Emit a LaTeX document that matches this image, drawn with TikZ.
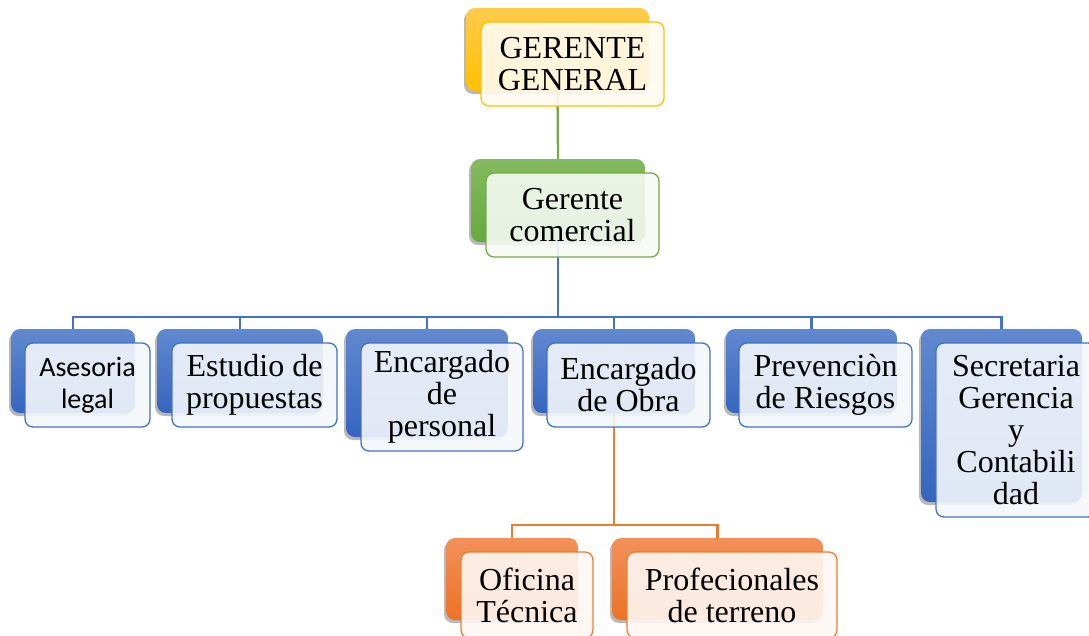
\documentclass[tikz,border=0pt]{standalone}
\usepackage{fontspec}
\setmainfont{Liberation Serif}
\newfontfamily\calibrisub{Carlito}
\usetikzlibrary{shadows,backgrounds,calc}
\definecolor{cY}{HTML}{FFC000}
\definecolor{cYt}{HTML}{FFCB4C}
\definecolor{cG}{HTML}{70AD47}
\definecolor{cGt}{HTML}{84BB60}
\definecolor{cGb}{HTML}{68A83C}
\definecolor{cB}{HTML}{4472C4}
\definecolor{cBt}{HTML}{6189D0}
\definecolor{cBb}{HTML}{3565C0}
\definecolor{cO}{HTML}{ED7D31}
\definecolor{cOt}{HTML}{F2915A}
\definecolor{cOb}{HTML}{EB7325}
\tikzset{
  backbox/.style={rounded corners=9pt, draw=none,
    drop shadow={shadow xshift=-2pt, shadow yshift=-3pt, opacity=0.28, fill=black}},
  yback/.style={backbox, top color=cYt, bottom color=cY},
  gback/.style={backbox, top color=cGt, bottom color=cGb},
  bback/.style={backbox, top color=cBt, bottom color=cBb},
  oback/.style={backbox, top color=cOt, bottom color=cOb},
  frontbox/.style={rounded corners=8pt, line width=1.3pt, fill opacity=0.9, text opacity=1,
    align=center, inner sep=0pt, font=\fontsize{32}{32}\selectfont},
  yfront/.style={frontbox, draw=cY, fill=cY!6!white},
  gfront/.style={frontbox, draw=cG, fill=cG!6!white},
  bfront/.style={frontbox, draw=cB, fill=cB!6!white},
  ofront/.style={frontbox, draw=cO, fill=cO!6!white},
  conn/.style={line width=2.3pt},
}
\begin{document}
\begin{tikzpicture}[x=1pt,y=-1pt]
\useasboundingbox (0,0) rectangle (1089,635);
\clip (0,0) rectangle (1089,635);
% level 0
\node[yback, minimum width=183pt, minimum height=83pt] (gg-b) at (557.5,49.5) {};
\node[yfront, minimum width=183pt, minimum height=84pt] (gg) at (572.5,64) {GERENTE\\GENERAL};
% level 1
\node[gback, minimum width=174pt, minimum height=83pt] (gc-b) at (558,200.5) {};
\node[gfront, minimum width=173pt, minimum height=84pt] (gc) at (572.5,215) {Gerente\\comercial};
% level 2
\node[bback, minimum width=124pt, minimum height=84pt] (al-b) at (73,371) {};
\node[bfront, minimum width=125pt, minimum height=84pt, font=\calibrisub\fontsize{28}{32}\selectfont] (al) at (87.5,385) {Asesoria\\legal};
\node[bback, minimum width=166pt, minimum height=84pt] (ep-b) at (240,371) {};
\node[bfront, minimum width=165pt, minimum height=84pt] (ep) at (254.5,385) {Estudio de\\propuestas};
\node[bback, minimum width=162pt, minimum height=108pt] (enp-b) at (427,383) {};
\node[bfront, minimum width=162pt, minimum height=108pt] (enp) at (442,397) {Encargado\\de\\personal};
\node[bback, minimum width=162pt, minimum height=84pt] (eo-b) at (614,371) {};
\node[bfront, minimum width=163pt, minimum height=84pt] (eo) at (628.5,385) {Encargado\\de Obra};
\node[bback, minimum width=171pt, minimum height=84pt] (pr-b) at (811.5,371) {};
\node[bfront, minimum width=173pt, minimum height=84pt] (pr) at (825.5,385) {Prevenciòn\\de Riesgos};
\node[bback, minimum width=161pt, minimum height=173pt] (sg-b) at (1001.5,415.5) {};
\node[bfront, minimum width=160pt, minimum height=174pt] (sg) at (1016,430) {Secretaria\\Gerencia\\y\\Contabili\\dad};
% level 3
\node[oback, minimum width=132pt, minimum height=82pt] (ot-b) at (512,579) {};
\node[ofront, minimum width=132pt, minimum height=86pt] (ot) at (527,595) {Oficina\\Técnica};
\node[oback, minimum width=211pt, minimum height=82pt] (pt-b) at (717.5,579) {};
\node[ofront, minimum width=210pt, minimum height=86pt] (pt) at (732,595) {Profecionales\\de terreno};
% connectors
\coordinate (bar) at (0,317);
\coordinate (bar2) at (0,525);
\begin{scope}[on background layer]
\draw[conn, cG] (gg-b.south) -- (gc-b.north);
\foreach \n in {al,ep,enp,eo,pr,sg}
  \draw[conn, cB] (gc-b.south) |- (\n-b.north |- bar) -- (\n-b.north);
\foreach \n in {ot,pt}
  \draw[conn, cO] (eo-b.south) |- (\n-b.north |- bar2) -- (\n-b.north);
\end{scope}
\end{tikzpicture}
\end{document}
